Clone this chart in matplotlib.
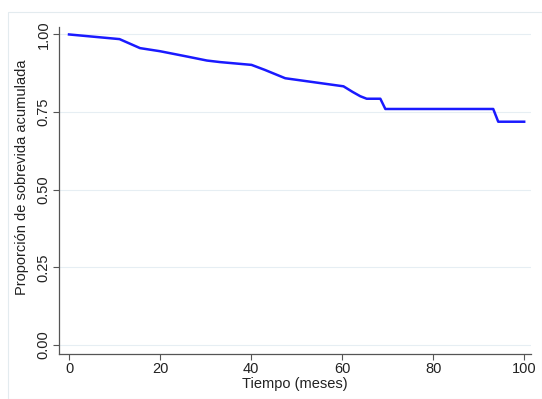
import matplotlib
matplotlib.use("Agg")
import matplotlib.pyplot as plt
from matplotlib.patches import Rectangle

# Kaplan-Meier style cumulative survival curve
tiempo = [0, 11.1, 15.6, 20, 25.9, 30.3, 33.2, 40.1, 43, 47.5,
          60.3, 62.3, 64, 65.4, 68.4, 69.5, 93.2, 94.3, 100]
sobrevida = [1.0, 0.985, 0.956, 0.946, 0.929, 0.916, 0.911, 0.902, 0.886, 0.859,
             0.833, 0.815, 0.801, 0.793, 0.793, 0.760, 0.760, 0.719, 0.719]

x_ticks = [0, 20, 40, 60, 80, 100]
y_ticks = [0.0, 0.25, 0.50, 0.75, 1.00]
y_tick_labels = ["0.00", "0.25", "0.50", "0.75", "1.00"]

plt.rcParams["font.family"] = ["Liberation Sans", "DejaVu Sans"]

fig = plt.figure(figsize=(5.42, 3.99), dpi=100)
W, H = 542, 399

# light outer frame of the graph region
fig.patches.append(Rectangle((8 / W, 0), 1 - 8 / W, 1 - 12 / H,
                             transform=fig.transFigure, fill=False,
                             edgecolor="#e3ebef", linewidth=0.8))

ax = fig.add_axes([59 / W, 1 - 354 / H, (531 - 59) / W, (354 - 27) / H])
ax.plot(tiempo, sobrevida, color="#1a1aff", linewidth=1.8)

ax.set_xlim(-2.2, 101.5)
ax.set_ylim(-0.029, 1.024)
ax.set_xticks(x_ticks)
ax.set_yticks(y_ticks)
ax.set_yticklabels(y_tick_labels, rotation=90, va="center")
ax.tick_params(axis="both", direction="out", length=4, width=0.8,
               color="#555555", labelsize=10.5, labelcolor="#222222", pad=2)

for side in ("top", "right"):
    ax.spines[side].set_visible(False)
for side in ("left", "bottom"):
    ax.spines[side].set_color("#555555")
    ax.spines[side].set_linewidth(0.9)

ax.grid(axis="y", color="#e6eef3", linewidth=0.8)
ax.set_axisbelow(True)

fig.text(295 / W, 1 - 384 / H, "Tiempo (meses)", fontsize=10.5,
         ha="center", va="center", color="#222222")
fig.text(22 / W, 1 - 177 / H, "Proporción de sobrevida acumulada",
         fontsize=10.5, rotation=90, ha="center", va="center", color="#222222")

fig.savefig("out.png", dpi=100)
